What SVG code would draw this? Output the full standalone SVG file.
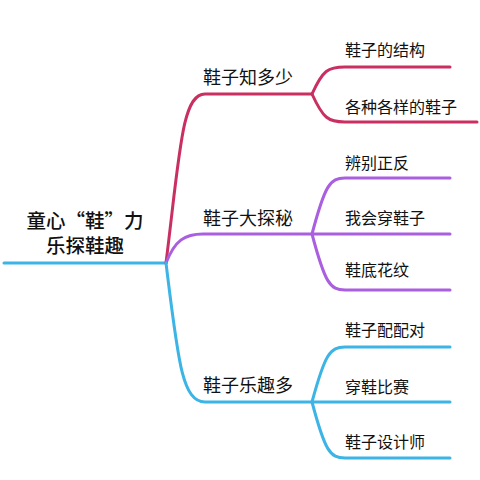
<svg xmlns="http://www.w3.org/2000/svg" width="480" height="480" viewBox="0 0 480 480">
<style>
text{font-family:"Noto Sans CJK SC","Noto Sans",sans-serif;fill:#111}
.root{font-size:19.5px;text-anchor:middle;font-weight:500}
.b{font-size:18px}
.s{font-size:16px}
.l{fill:none;stroke-width:3;stroke-linecap:round}
.red{stroke:#c92f60}
.pur{stroke:#a95fe0}
.blu{stroke:#3cb4e6}
</style>
<rect width="480" height="480" fill="#fff"/>
<g id="connectors">
<path class="l blu" d="M4,263 L166,263"/>
<path class="l red" d="M166,263 C180,150 182,94 205,94 L312,94"/>
<path class="l pur" d="M166,263 C175,240 185,234 203,234 L312,234"/>
<path class="l blu" d="M166,263 C178,360 182,402 205,402 L312,402"/>
<path class="l red" d="M312,94 C323,70 328,67 345,67 L450,67"/>
<path class="l red" d="M312,94 C323,118 328,122 345,122 L477,122"/>
<path class="l pur" d="M312,234 C325,185 330,178 345,178 L450,178"/>
<path class="l pur" d="M312,234 L450,234"/>
<path class="l pur" d="M312,234 C325,283 330,290 345,290 L450,290"/>
<path class="l blu" d="M312,402 C325,354 330,347 345,347 L450,347"/>
<path class="l blu" d="M312,402 L450,402"/>
<path class="l blu" d="M312,402 C325,451 330,458 345,458 L450,458"/>
</g>
<g id="root"><text class="root" x="85" y="228">童心“鞋”力</text><text class="root" x="85" y="253">乐探鞋趣</text></g>
<g id="b1"><text class="b" x="203" y="84">鞋子知多少</text></g>
<g id="b2"><text class="b" x="203" y="225">鞋子大探秘</text></g>
<g id="b3"><text class="b" x="203" y="392">鞋子乐趣多</text></g>
<g id="s1"><text class="s" x="345" y="56">鞋子的结构</text></g>
<g id="s2"><text class="s" x="345" y="113">各种各样的鞋子</text></g>
<g id="s3"><text class="s" x="345" y="169">辨别正反</text></g>
<g id="s4"><text class="s" x="345" y="224">我会穿鞋子</text></g>
<g id="s5"><text class="s" x="345" y="276">鞋底花纹</text></g>
<g id="s6"><text class="s" x="345" y="336">鞋子配配对</text></g>
<g id="s7"><text class="s" x="345" y="393">穿鞋比赛</text></g>
<g id="s8"><text class="s" x="345" y="448">鞋子设计师</text></g>
</svg>
